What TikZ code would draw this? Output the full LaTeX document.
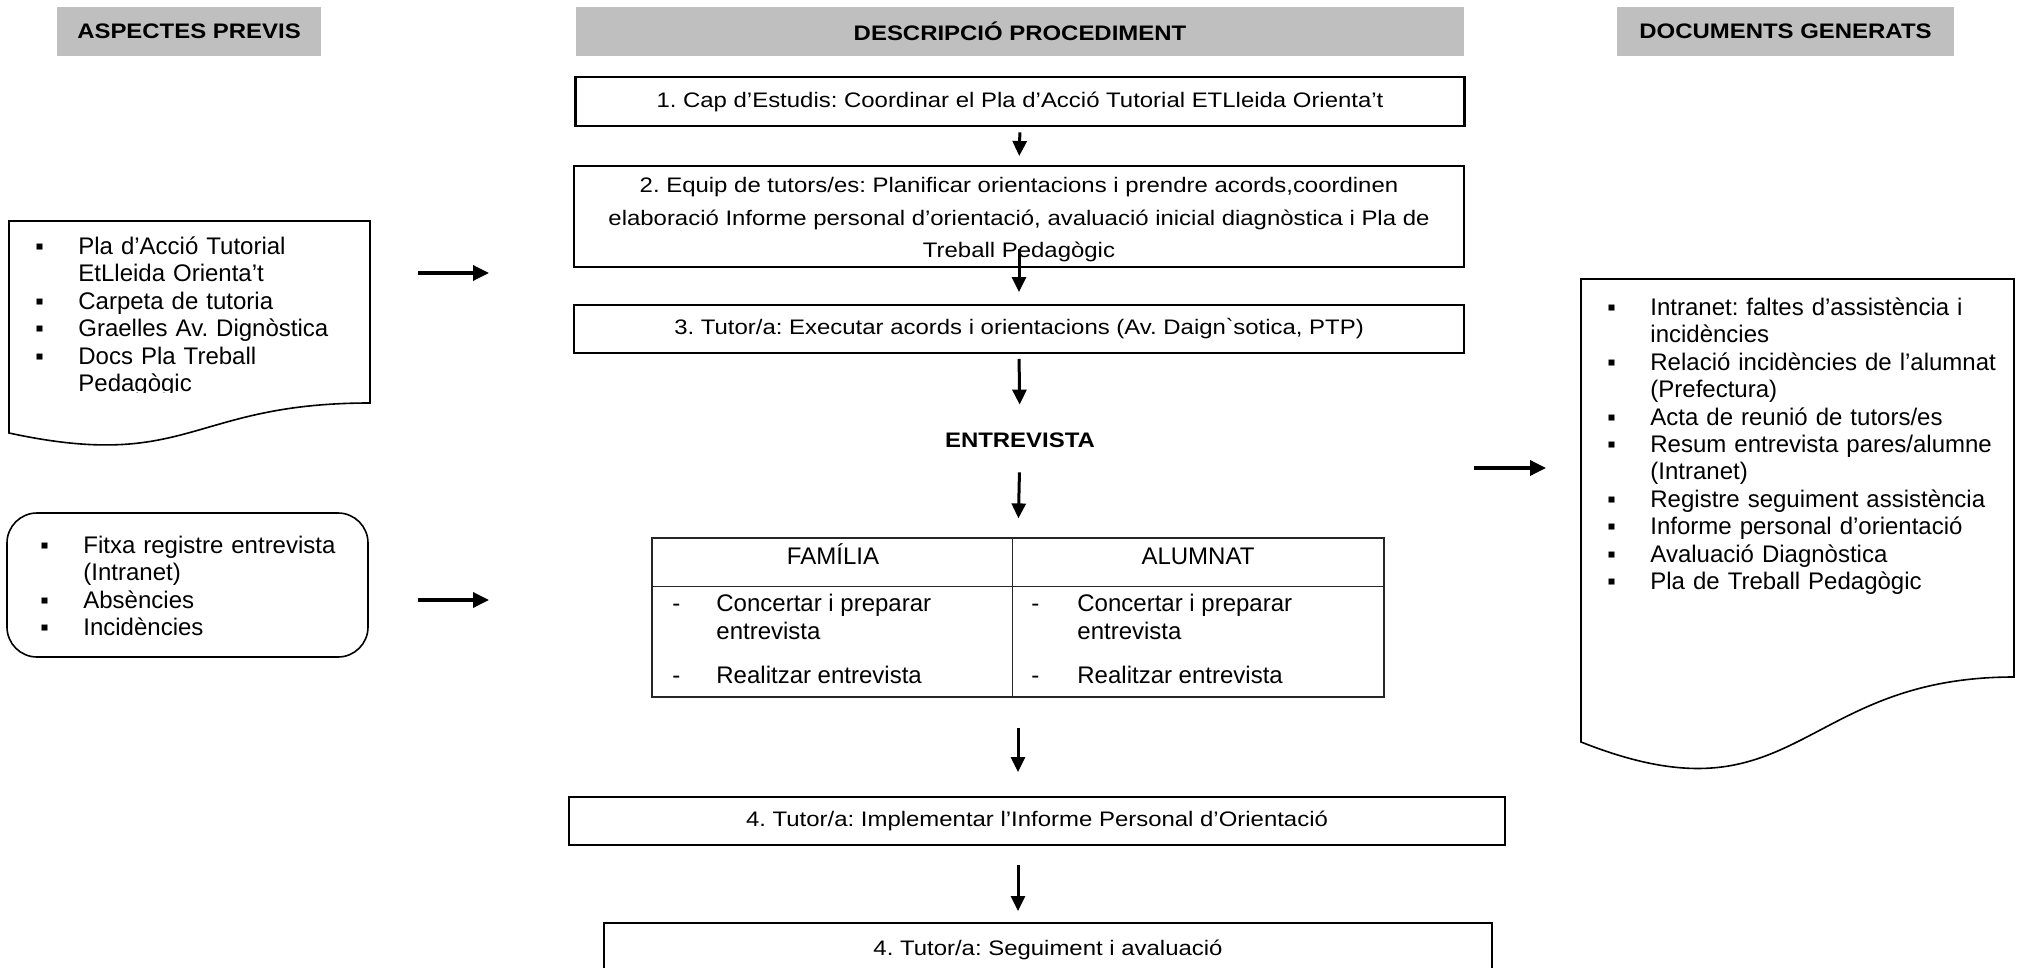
\documentclass[tikz,border=0pt]{standalone}
\usepackage{fontspec}
\setmainfont{Liberation Sans}
\newfontfamily\widefont{Liberation Sans}[FakeStretch=1.14]
\usetikzlibrary{arrows.meta}
\font\gravefont="Liberation Sans" at 11pt
\definecolor{hdrgray}{RGB}{191,191,191}
\newcommand\bsq{\strut\makebox[21.5pt][l]{▪}}
\newcommand\bin{\strut\hspace*{21.5pt}}
\frenchspacing
\begin{document}
\frenchspacing
\begin{tikzpicture}[x=0.5pt,y=-0.5pt,
  every node/.append style={execute at begin node=\frenchspacing},
  hdr/.style={fill=hdrgray,inner sep=0pt,font=\widefont\fontsize{10.5}{13}\selectfont\bfseries},
  stepbox/.style={draw,line width=1pt,inner sep=0pt,align=center,font=\widefont\fontsize{10.5}{16.25}\selectfont},
  arr/.style={-{Triangle[length=7.5pt,width=7pt]},line width=1.5pt},
  harr/.style={-{Triangle[length=8pt,width=7.5pt]},line width=1.7pt},
  shapeline/.style={line width=0.8pt},
  listtxt/.style={inner sep=0pt,anchor=north west,align=left,font=\fontsize{12}{13.7}\selectfont},
  tline/.style={line width=0.6pt,black!85},
  tcell/.style={inner sep=0pt,anchor=base,font=\fontsize{12}{14}\selectfont},
  ttxt/.style={inner sep=0pt,anchor=base west,font=\fontsize{12}{14}\selectfont}
]
\useasboundingbox (0,0) rectangle (2017,968);
\clip (0,0) rectangle (2017,968);

% headers
\node[hdr,minimum width=132pt,minimum height=24.5pt] (hA) at (189,31.5) {ASPECTES PREVIS};
\node[hdr,minimum width=444pt,minimum height=24.5pt] (hD) at (1020,31.5) {DESCRIPCIÓ PROCEDIMENT};
\node[hdr,minimum width=168.5pt,minimum height=24.5pt] (hG) at (1785.5,31.5) {DOCUMENTS GENERATS};

% central steps
\node[stepbox,line width=1.3pt,minimum width=444.5pt,minimum height=24.5pt] (s1) at (1020,101.5)
  {1. Cap d’Estudis: Coordinar el Pla d’Acció Tutorial ETLleida Orienta’t};
\node[stepbox,minimum width=445pt,minimum height=50.5pt] (s2) at (1019,216.5)
  {\rule{0pt}{11pt}2. Equip de tutors/es: Planificar orientacions i prendre acords,coordinen\\
   elaboració Informe personal d’orientació, avaluació inicial diagnòstica i Pla de\\
   Treball Pedagògic};
\node[stepbox,minimum width=445pt,minimum height=24pt] (s3) at (1019,329)
  {3. Tutor/a: Executar acords i orientacions (Av. Daign{\gravefont\char96}sotica, PTP)};
\node[inner sep=0pt,text height=8pt,text depth=0pt,font=\widefont\fontsize{10.5}{13}\selectfont\bfseries] (ent) at (1020,439) {ENTREVISTA};

% table
\node[draw,tline,inner sep=0pt,minimum width=366pt,minimum height=79.5pt] (tab) at (1018,617.5) {};
\draw[tline] ([yshift=-24.5pt]tab.north west) -- ([yshift=-24.5pt]tab.north east);
\draw[tline] ([xshift=180.5pt]tab.north west) -- ([xshift=180.5pt]tab.south west);
\node[tcell] (fam) at (833,564.5) {FAMÍLIA};
\node[tcell] (alu) at (1198,564.5) {ALUMNAT};
\node[ttxt] (fd1) at (672,611.5) {-};
\node[ttxt] (fd2) at (672,683.5) {-};
\node[ttxt] (ft1) at (716,611.5) {Concertar i preparar};
\node[ttxt] (ft1b) at (716,639.5) {entrevista};
\node[ttxt] (ft2) at (716,683.5) {Realitzar entrevista};
\node[ttxt] (ad1) at (1031,611.5) {-};
\node[ttxt] (ad2) at (1031,683.5) {-};
\node[ttxt] (at1) at (1077,611.5) {Concertar i preparar};
\node[ttxt] (at1b) at (1077,639.5) {entrevista};
\node[ttxt] (at2) at (1077,683.5) {Realitzar entrevista};

\node[stepbox,minimum width=468pt,minimum height=24pt] (s4) at (1037,821)
  {4. Tutor/a: Implementar l’Informe Personal d’Orientació};
\node[stepbox,minimum width=444pt,minimum height=27pt] (s5) at (1048,950)
  {4. Tutor/a: Seguiment i avaluació};

% vertical arrows
\draw[arr,shorten <=2.5pt,shorten >=4.5pt] (s1.south) -- (s2.north);
\draw[arr,shorten <=-9.5pt,shorten >=6pt] (s2.south) -- (s3.north);
\draw[arr,shorten <=2.5pt,shorten >=13pt] (s3.south) -- (ent.north);
\draw[arr,shorten <=12.5pt,shorten >=9.5pt] (ent.south) -- (tab.north);
\draw[arr,shorten <=15pt,shorten >=12pt] (tab.south) -- (tab.south |- s4.north);
\draw[arr,shorten <=9.5pt,shorten >=5.5pt] (tab.south |- s4.south) -- (tab.south |- s5.north);

% left document shape
\draw[shapeline] (9,221) -- (370,221) -- (370,403)
  .. controls (189.5,403) and (189.5,472) .. (9,433) -- cycle;
\begin{scope}
\clip (9,221) rectangle (370,392);
\node[listtxt,text width=165pt] (t1) at (35,235)
  {\bsq Pla d’Acció Tutorial\\
   \bin EtLleida Orienta’t\\
   \bsq Carpeta de tutoria\\
   \bsq Graelles Av. Dignòstica\\
   \bsq Docs Pla Treball\\
   \bin Pedagògic};
\end{scope}

% left rounded box
\draw[shapeline,rounded corners=15pt] (7,513) rectangle (368,657);
\node[listtxt,text width=160pt] (t2) at (40,534)
  {\bsq Fitxa registre entrevista\\
   \bin (Intranet)\\
   \bsq Absències\\
   \bsq Incidències};

% left arrows
\coordinate (la1s) at (418,273);
\coordinate (la1e) at (489,273);
\draw[harr] (la1s) -- (la1e);
\coordinate (la2s) at (418,600);
\coordinate (la2e) at (489,600);
\draw[harr] (la2s) -- (la2e);

% right arrow
\coordinate (ra1s) at (1474,468);
\coordinate (ra1e) at (1546,468);
\draw[harr] (ra1s) -- (ra1e);

% right document shape
\draw[shapeline] (1581,279) -- (2014,279) -- (2014,677)
  .. controls (1797.5,677) and (1797.5,828) .. (1581,742) -- cycle;
\node[listtxt,text width=200pt] (t3) at (1607,296)
  {\bsq Intranet: faltes d’assistència i\\
   \bin incidències\\
   \bsq Relació incidències de l’alumnat\\
   \bin (Prefectura)\\
   \bsq Acta de reunió de tutors/es\\
   \bsq Resum entrevista pares/alumne\\
   \bin (Intranet)\\
   \bsq Registre seguiment assistència\\
   \bsq Informe personal d’orientació\\
   \bsq Avaluació Diagnòstica\\
   \bsq Pla de Treball Pedagògic};
\end{tikzpicture}
\end{document}
